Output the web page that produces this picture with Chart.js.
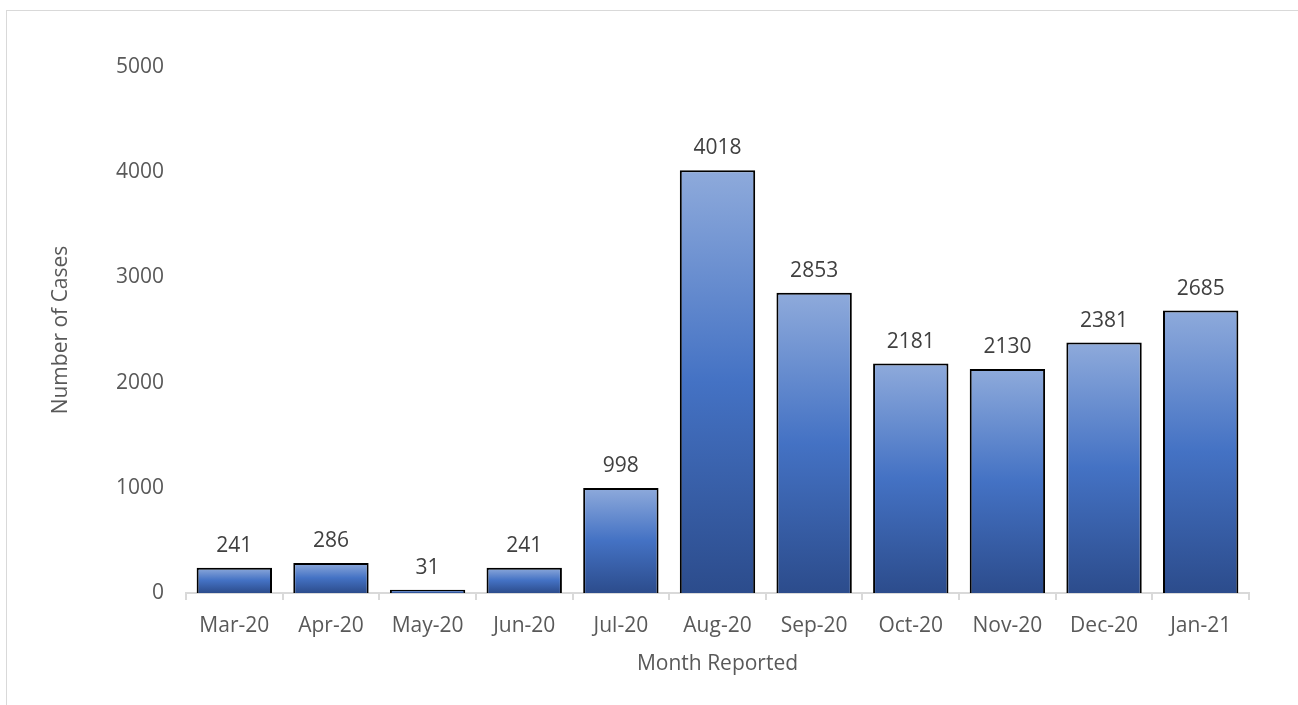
<!DOCTYPE html>
<html>
<head>
<meta charset="utf-8">
<script src="https://cdn.jsdelivr.net/npm/chart.js@4.4.1/dist/chart.umd.min.js"></script>
<style>
    html, body { margin: 0; padding: 0; background: #fff; overflow: hidden; }
    #frame { position: absolute; left: 6px; top: 10px; width: 1300px; height: 700px; border: 1px solid #d9d9d9; }
    #wrap { position: absolute; left: 0; top: 0; width: 1298px; height: 705px; }
</style>
</head>
<body>
<div id="frame"></div>
<div id="wrap"><canvas id="cases-chart"></canvas></div>
<script>
// Monthly reported cases
const months = ['Mar-20', 'Apr-20', 'May-20', 'Jun-20', 'Jul-20', 'Aug-20', 'Sep-20', 'Oct-20', 'Nov-20', 'Dec-20', 'Jan-21'];
const cases = [241, 286, 31, 241, 998, 4018, 2853, 2181, 2130, 2381, 2685];
const yTicks = [0, 1000, 2000, 3000, 4000, 5000];

const FONT = '"Open Sans", sans-serif';
const GREY = '#595959';

// per-bar vertical gradient, light on top, dark at the base
function barGradient(context) {
    const chart = context.chart;
    const { chartArea, scales } = chart;
    if (!chartArea) return '#4472c4';
    const top = scales.y.getPixelForValue(context.raw);
    const bottom = scales.y.getPixelForValue(0);
    if (bottom - top < 1) return '#4472c4';
    const g = chart.ctx.createLinearGradient(0, top, 0, bottom);
    g.addColorStop(0, '#8eaadb');
    g.addColorStop(0.5, '#4472c4');
    g.addColorStop(1, '#2c4c8c');
    return g;
}

const valueLabels = {
    id: 'valueLabels',
    afterDatasetsDraw(chart) {
        const ctx = chart.ctx;
        const meta = chart.getDatasetMeta(0);
        ctx.save();
        ctx.font = '21px ' + FONT;
        ctx.fillStyle = '#404040';
        ctx.textAlign = 'center';
        ctx.textBaseline = 'alphabetic';
        meta.data.forEach((bar, i) => {
            ctx.fillText(String(cases[i]), bar.x, bar.y - 16);
        });
        ctx.restore();
    }
};

new Chart(document.getElementById('cases-chart'), {
    type: 'bar',
    data: {
        labels: months,
        datasets: [{
            data: cases,
            backgroundColor: barGradient,
            borderColor: '#000000',
            borderWidth: 2,
            borderSkipped: 'bottom',
            barPercentage: 0.78,
            categoryPercentage: 1.0
        }]
    },
    options: {
        responsive: true,
        maintainAspectRatio: false,
        animation: false,
        layout: { padding: { left: 0, right: 49, top: 67, bottom: 0 } },
        plugins: {
            legend: { display: false },
            tooltip: { enabled: false }
        },
        scales: {
            x: {
                grid: {
                    display: true,
                    offset: true,
                    drawOnChartArea: false,
                    drawTicks: true,
                    tickLength: 7,
                    color: '#d9d9d9',
                    lineWidth: 2
                },
                border: { display: true, color: '#d9d9d9', width: 2 },
                ticks: { color: GREY, font: { family: FONT, size: 21 }, padding: 13, maxRotation: 0 },
                title: {
                    display: true,
                    text: 'Month Reported',
                    color: GREY,
                    font: { family: FONT, size: 21 },
                    padding: { top: 0, bottom: 28 }
                },
                afterFit(scale) { scale.height = 112; }
            },
            y: {
                min: 0,
                max: 5000,
                afterBuildTicks(scale) { scale.ticks = yTicks.map(v => ({ value: v })); },
                grid: { display: false, drawTicks: false },
                border: { display: false },
                ticks: {
                    color: GREY,
                    font: { family: FONT, size: 21 },
                    padding: 22,
                    callback: function(value) { return String(value); }
                },
                title: {
                    display: true,
                    text: 'Number of Cases',
                    color: GREY,
                    font: { family: FONT, size: 21 },
                    padding: { top: 48, bottom: 0 }
                },
                afterFit(scale) { scale.width = 186; }
            }
        }
    },
    plugins: [valueLabels]
});
</script>
</body>
</html>
